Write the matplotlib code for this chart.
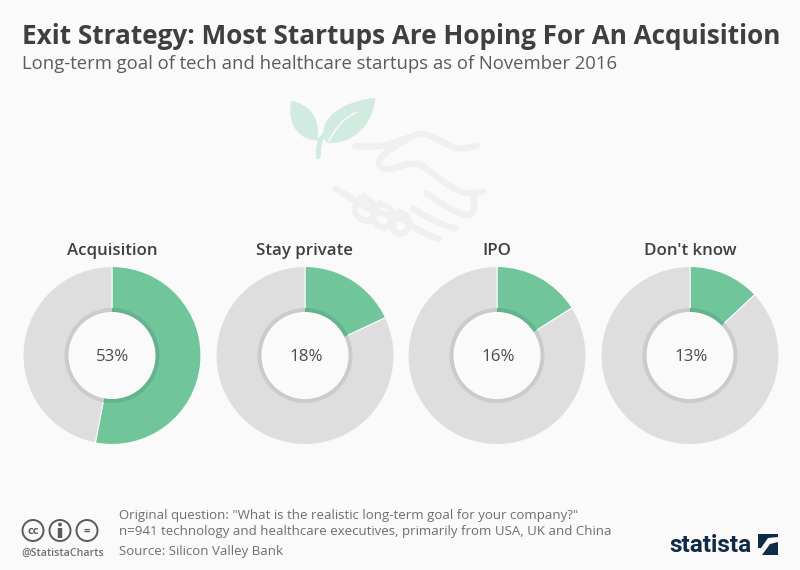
import matplotlib
matplotlib.use("Agg")
import matplotlib.pyplot as plt
from matplotlib.patches import Circle, PathPatch, Polygon
from matplotlib.path import Path

# data
categories = ["Acquisition", "Stay private", "IPO", "Don't know"]
values = [53, 18, 16, 13]

title = "Exit Strategy: Most Startups Are Hoping For An Acquisition"
subtitle = "Long-term goal of tech and healthcare startups as of November 2016"
note_lines = ['Original question: "What is the realistic long-term goal for your company?"',
              "n=941 technology and healthcare executives, primarily from USA, UK and China"]
source = "Source: Silicon Valley Bank"

BG = "#fafafa"
GREEN = "#70c69a"
GREEN_DK = "#64b38c"
GREY = "#dedede"
GREY_DK = "#cbcbcb"
TXT = "#3f3f3f"
W, H = 800, 570

plt.rcParams["font.family"] = ["Open Sans", "DejaVu Sans"]

fig = plt.figure(figsize=(W / 100, H / 100), dpi=100, facecolor=BG)
ax = fig.add_axes([0, 0, 1, 1])
ax.set_facecolor(BG)


def py(y):
    return H - y


def zoomed(pts):
    return [(260 + x / 3, py(85 + y / 3)) for x, y in pts]


def smooth_path(pts):
    # quadratic curves through the midpoints, keeps both ends
    xy = zoomed(pts)
    verts = [xy[0]]
    codes = [Path.MOVETO]
    for i in range(1, len(xy) - 1):
        mid = ((xy[i][0] + xy[i + 1][0]) / 2, (xy[i][1] + xy[i + 1][1]) / 2)
        verts += [xy[i], mid]
        codes += [Path.CURVE3, Path.CURVE3]
    verts.append(xy[-1])
    codes.append(Path.LINETO)
    return Path(verts, codes)


def leaf_path(pts):
    # pts = start + 3 points per cubic segment
    xy = zoomed(pts)
    codes = [Path.MOVETO] + [Path.CURVE4] * (len(xy) - 1)
    return Path(xy, codes)


# background icons
hand_color = "#f0f0f0"
hand_lines = [
    [(285, 183), (340, 190), (430, 165), (485, 142), (530, 160), (590, 195), (650, 182)],
    [(440, 165), (350, 210), (365, 265), (470, 225), (520, 270), (610, 330), (670, 320)],
    [(640, 330), (650, 395), (590, 385), (500, 325)],
    [(225, 310), (290, 350), (350, 385), (420, 395), (480, 440), (535, 462)],
    [(460, 370), (520, 410), (585, 430)],
    [(310, 335), (265, 375), (330, 420), (350, 360), (310, 335)],
    [(360, 355), (325, 400), (380, 440), (405, 375), (360, 355)],
    [(415, 380), (385, 430), (435, 455), (455, 400), (415, 380)],
]
for pts in hand_lines:
    ax.add_patch(PathPatch(smooth_path(pts), fc="none", ec=hand_color, lw=4.6,
                           capstyle="round", joinstyle="round", zorder=1))

leaf_color = "#d2ebe0"
left_leaf = [(95, 48), (145, 60), (180, 95), (172, 165), (120, 165), (80, 120), (95, 48)]
right_leaf = [(345, 40), (335, 130), (270, 178), (200, 172), (165, 110), (240, 50), (345, 40)]
for leaf in (left_leaf, right_leaf):
    ax.add_patch(PathPatch(leaf_path(leaf), fc=leaf_color, ec=leaf_color, lw=0.5, zorder=1))
ax.add_patch(PathPatch(smooth_path([(175, 215), (175, 170), (195, 148)]), fc="none",
                       ec=leaf_color, lw=3.6, capstyle="round", zorder=1))
ax.add_patch(PathPatch(smooth_path([(205, 170), (235, 115), (290, 80)]), fc="none",
                       ec=BG, lw=1.1, zorder=2))

# donuts
centers = [112, 305, 497, 690]
cy = 355.5
for name, val, cx in zip(categories, values, centers):
    rest = 100 - val
    ax.pie([val, rest], colors=[GREEN, GREY], startangle=90, counterclock=False,
           center=(cx, py(cy)), radius=89, frame=True,
           wedgeprops=dict(width=44, edgecolor=BG, linewidth=0.8))
    ax.pie([val, rest], colors=[GREEN_DK, GREY_DK], startangle=90, counterclock=False,
           center=(cx, py(cy)), radius=47.5, frame=True,
           wedgeprops=dict(width=4.5, edgecolor="none"))
    ax.add_patch(Circle((cx, py(cy)), 43.5, fc=BG, ec="none", zorder=5))
    ax.text(cx + 1, py(cy + 1.5), f"{val}%", ha="center", va="center", fontsize=12.2,
            color="#4c4c4c", zorder=6)
    ax.text(cx, py(251), name, ha="center", va="center", fontsize=12.2,
            fontweight="semibold", color=TXT)

ax.set_xlim(0, W)
ax.set_ylim(0, H)
ax.set_aspect("equal")
ax.axis("off")

# header
ax.text(22, py(36), title, ha="left", va="center", fontsize=18.8, fontweight="bold", color=TXT)
ax.text(22, py(64), subtitle, ha="left", va="center", fontsize=13.3, color="#5c5c5c")

# footer
foot = "#6e6e6e"
ax.text(119, py(516), note_lines[0], ha="left", va="center", fontsize=9.5, color=foot)
ax.text(119, py(532), note_lines[1], ha="left", va="center", fontsize=9.5, color=foot)
ax.text(119, py(552), source, ha="left", va="center", fontsize=9.5, color=foot)
ax.text(21, py(553), "@StatistaCharts", ha="left", va="center", fontsize=7.7,
        fontweight="semibold", color=foot)

# cc badges
badge = "#5a5a5a"
for bx, label in zip([33, 60, 87], ["cc", "", "="]):
    ax.add_patch(Circle((bx, py(530.5)), 10.5, fc=BG, ec=badge, lw=1.4))
    if label:
        ax.text(bx, py(531), label, ha="center", va="center", fontsize=8,
                fontweight="bold", color=badge)
ax.add_patch(Circle((60, py(524.5)), 1.9, fc=badge, ec="none"))
ax.plot([60, 60], [py(528), py(538)], color=badge, lw=3.2, solid_capstyle="butt")

# statista logo
navy = "#0f2b46"
ax.text(669, py(545), "statista", ha="left", va="center", fontsize=17.5,
        fontweight="bold", color=navy, family=["Roboto", "DejaVu Sans"])
top_mark = [(758, 534), (778, 534), (778, 537), (768, 538), (761, 548), (758, 548)]
low_mark = [(778, 555), (762, 555), (770, 544), (778, 542)]
ax.add_patch(Polygon([(x, py(y)) for x, y in top_mark], closed=True, fc=navy, ec="none"))
ax.add_patch(Polygon([(x, py(y)) for x, y in low_mark], closed=True, fc=navy, ec="none"))

fig.savefig("out.png", dpi=100, facecolor=BG)
